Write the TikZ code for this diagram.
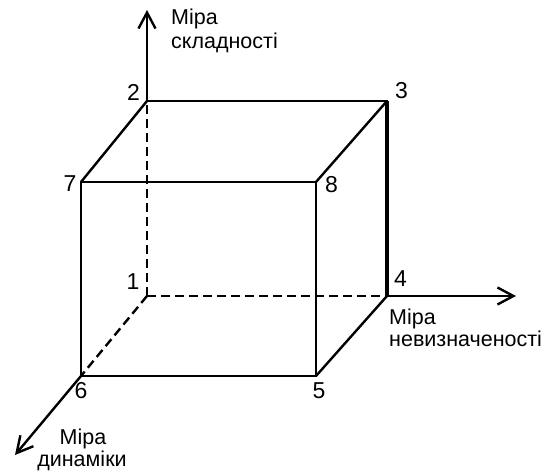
\documentclass[tikz,border=0pt]{standalone}
\usepackage{fontspec}
\setmainfont{Liberation Sans}
\usetikzlibrary{arrows.meta}
\begin{document}
\begin{tikzpicture}[x=1pt,y=-1pt,
  edge/.style={line width=2.4pt, line cap=round, line join=miter},
  hidden/.style={line width=2.4pt, dash pattern=on 9pt off 5pt},
  axis/.style={line width=2.4pt, -{Straight Barb[length=16pt,width=17pt,line width=2.4pt]}},
  num/.style={font=\fontsize{23}{27}\selectfont, inner sep=0pt, anchor=base},
  lbl/.style={font=\fontsize{21.5}{25}\selectfont, inner sep=0pt}]
\useasboundingbox (0,0) rectangle (550,476);
% vertices
\coordinate (p1) at (147,296);
\coordinate (p2) at (147,101);
\coordinate (p3) at (387,101);
\coordinate (p4) at (387,296);
\coordinate (p5) at (316,376);
\coordinate (p6) at (81,376);
\coordinate (p7) at (81,182);
\coordinate (p8) at (316,182);
% axis ends
\coordinate (ytip) at (147,10);
\coordinate (xtip) at (516,296);
\coordinate (ztip) at (15,455);
% hidden edges
\draw[hidden] (p1) -- (p2);
\draw[hidden] (p1) -- (p4);
\draw[hidden] (p1) -- (p6);
% visible edges
\draw[edge] (p2) -- (p3);
\draw[line width=3.2pt] (p3) -- (p4);
\draw[edge] (p2) -- (p7);
\draw[edge] (p3) -- (p8);
\draw[edge] (p4) -- (p5);
\draw[edge] (p7) -- (p8) -- (p5) -- (p6) -- cycle;
% axes
\draw[axis] (p2) -- (ytip);
\draw[axis] (p4) -- (xtip);
\draw[axis] (p6) -- (ztip);
% vertex numbers
\node[num] (n1) at (133,289.5) {1};
\node[num] (n2) at (133.5,100.5) {2};
\node[num] (n3) at (401.5,98.5) {3};
\node[num] (n4) at (400.5,287) {4};
\node[num] (n5) at (319,398.5) {5};
\node[num] (n6) at (81,398.5) {6};
\node[num] (n7) at (70,192) {7};
\node[num] (n8) at (331.5,192.5) {8};
% axis labels
\node[lbl, anchor=base west] (ya) at (171,25) {Міра};
\node[lbl, anchor=base west] (yb) at (171,49) {складності};
\node[lbl, anchor=base west] (xa) at (389,325) {Міра};
\node[lbl, anchor=base west] (xb) at (389,347) {невизначеності};
\node[lbl, anchor=base] (za) at (83,445) {Міра};
\node[lbl, anchor=base] (zb) at (82,467) {динаміки};
\end{tikzpicture}
\end{document}
